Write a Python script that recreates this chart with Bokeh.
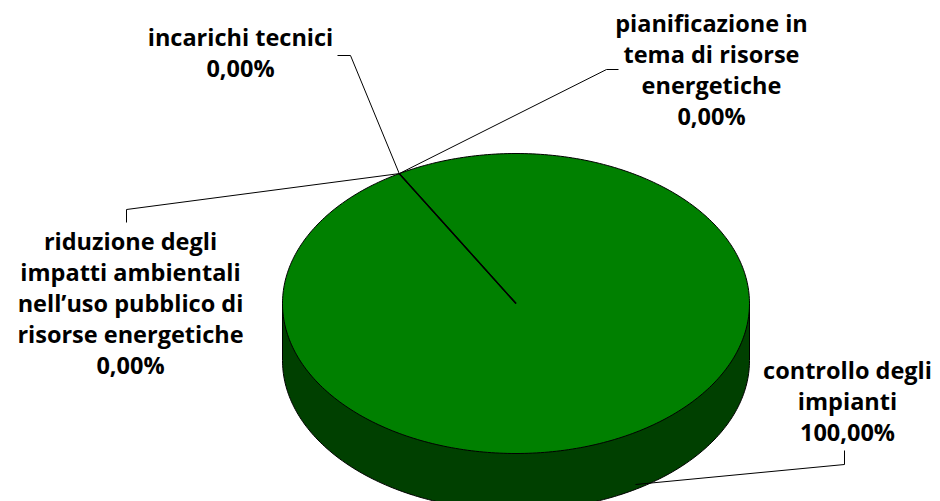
import numpy as np
from bokeh.plotting import figure
from bokeh.core.properties import value
from bokeh.embed import file_html
from bokeh.resources import INLINE

categories = ["incarichi tecnici",
              "pianificazione in\ntema di risorse\nenergetiche",
              "riduzione degli\nimpatti ambientali\nnell\u2019uso pubblico di\nrisorse energetiche",
              "controllo degli\nimpianti"]
values = [0.0, 0.0, 0.0, 100.0]

first_slice_angle = 330.0
cx, cy, rx, ry, depth = 515.5, 303.0, 233.5, 150.0, 57.0
FONT = "Open Sans"
FS = "23.5px"

p = figure(width=940, height=501, x_range=(0, 940), y_range=(501, 0),
           output_backend="svg", toolbar_location=None, min_border=0,
           x_axis_location=None, y_axis_location=None, outline_line_color=None,
           background_fill_color="white", border_fill_color="white")
p.grid.visible = False

# side wall
t = np.radians(np.linspace(0, 180, 181))
sx = cx + rx * np.cos(t)
sy = cy + ry * np.sin(t) + depth
p.patch(list(sx) + [cx - rx, cx + rx], list(sy) + [cy, cy],
        fill_color="#004000", line_color="black", line_width=1)

# top face
t = np.radians(np.linspace(0, 360, 361))
p.patch(cx + rx * np.cos(t), cy + ry * np.sin(t),
        fill_color="#008000", line_color="black", line_width=1)

# slice boundaries from the values
cum = np.cumsum([0.0] + values)
total = sum(values)
for v, c in zip(values, cum):
    if v == 0:
        a = np.radians(first_slice_angle + 360 * c / total)
        p.line([cx, cx + rx * np.sin(a)], [cy, cy - ry * np.cos(a)],
               line_color="black", line_width=1.2)

# leader lines
rim_x, rim_y = cx + rx * np.sin(np.radians(first_slice_angle)), cy - ry * np.cos(np.radians(first_slice_angle))
leaders = [
    ([337, 350, rim_x], [55, 55, rim_y]),
    ([618, 606, rim_x], [69, 69, rim_y]),
    ([126, 126, rim_x], [222, 209, rim_y]),
    ([844, 844, 635], [450, 464, 484]),
]
for lx, ly in leaders:
    p.line(lx, ly, line_color="black", line_width=1)

# labels
label_x = [240, 711, 130, 847]
label_y = [20, 6, 224, 353]
texts = [f"{c}\n{v:.2f}%".replace(".", ",") for c, v in zip(categories, values)]
p.text(label_x, label_y, text=texts, text_font=value(FONT), text_font_style="bold",
       text_font_size=FS, text_color="black", text_align="center", text_baseline="top",
       text_line_height=0.97)

open("out.html", "w").write(file_html(p, INLINE))
